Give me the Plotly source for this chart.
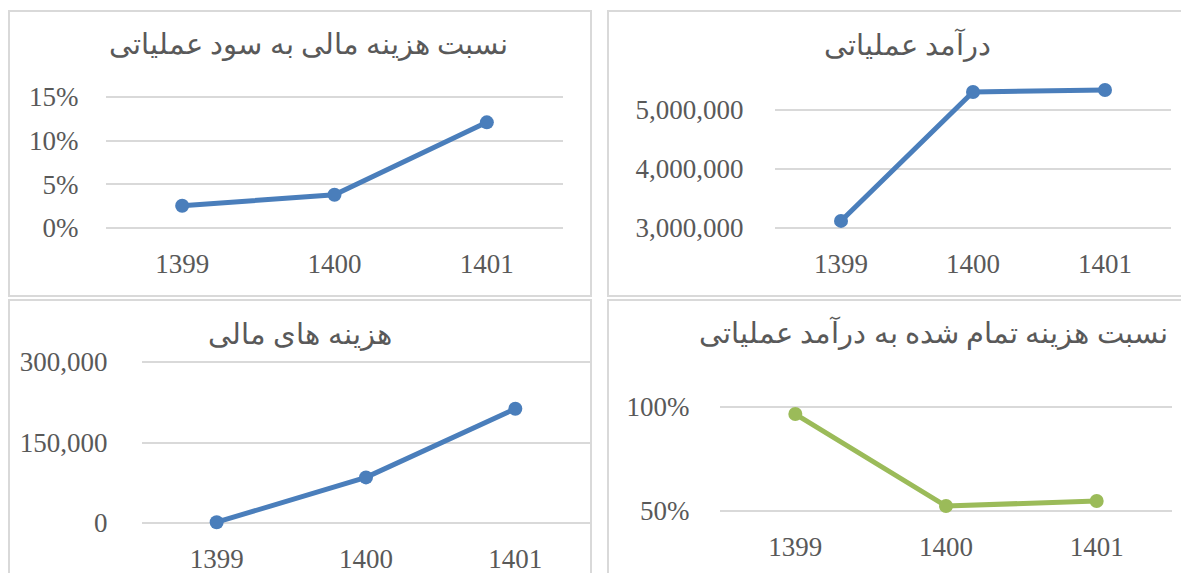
import plotly.graph_objects as go

# browser body has an 8px margin; size the figure to fit the viewport
VIEW_W, VIEW_H = 1189, 573
OFF = 8
W, H = VIEW_W - OFF, VIEW_H - OFF

years = ["1399", "1400", "1401"]
fin_cost_to_op_profit = [0.0255, 0.038, 0.121]
op_revenue = [3120000, 5305000, 5340000]
fin_costs = [1500, 85000, 213000]
cost_to_revenue = [0.966, 0.524, 0.548]

titles = [
    "نسبت هزینه مالی به سود عملیاتی",
    "درآمد عملیاتی",
    "هزینه های مالی",
    "نسبت هزینه تمام شده به درآمد عملیاتی",
]

BLUE = "#4a7ebb"
GREEN = "#9bbb59"
GRID = "#d9d9d9"
TXT = "#595959"
FONT = "Liberation Serif, Times New Roman, DejaVu Serif, serif"


def px_x(x):
    return (x - OFF) / W


def px_y(y):
    return 1 - (y - OFF) / H


fig = go.Figure()

# pixel geometry of each panel (screen coords); range values correspond to yt / yb gridlines
panels = [
    dict(x0=106, x1=563, yt=97, yb=228, rng=[0, 0.15],
         tv=[0, 0.05, 0.10, 0.15], tt=["0%", "5%", "10%", "15%"],
         data=fin_cost_to_op_profit, color=BLUE, title=(308, 45), ylen=21),
    dict(x0=775, x1=1171, yt=110, yb=228, rng=[3000000, 5000000], top_extra=30,
         tv=[3000000, 4000000, 5000000], tt=["3,000,000", "4,000,000", "5,000,000"],
         data=op_revenue, color=BLUE, title=(907, 45), ylen=25),
    dict(x0=142, x1=590, yt=362, yb=523, rng=[0, 300000],
         tv=[0, 150000, 300000], tt=["0", "150,000", "300,000"],
         data=fin_costs, color=BLUE, title=(300, 335), ylen=28),
    dict(x0=720, x1=1172, yt=407, yb=511, rng=[0.5, 1.0],
         tv=[0.5, 1.0], tt=["50%", "100%"],
         data=cost_to_revenue, color=GREEN, title=(933, 333), ylen=24),
]

PAD = 3
layout_axes = {}
for i, p in enumerate(panels, start=1):
    xa = "x" if i == 1 else f"x{i}"
    ya = "y" if i == 1 else f"y{i}"
    fig.add_trace(go.Scatter(
        x=years, y=p["data"], xaxis=xa, yaxis=ya, mode="lines+markers",
        line=dict(color=p["color"], width=5),
        marker=dict(color=p["color"], size=14),
        cliponaxis=False, showlegend=False, hoverinfo="skip",
    ))
    lo, hi = p["rng"]
    per_px = (hi - lo) / (p["yb"] - p["yt"])
    top_extra = p.get("top_extra", 0)
    yt = p["yt"] - PAD - top_extra
    yb = p["yb"] + PAD
    rng = [lo - PAD * per_px, hi + (PAD + top_extra) * per_px]
    xk = "xaxis" if i == 1 else f"xaxis{i}"
    yk = "yaxis" if i == 1 else f"yaxis{i}"
    layout_axes[xk] = dict(
        domain=[px_x(p["x0"]), px_x(p["x1"])], anchor=ya, automargin=False,
        type="category", range=[-0.5, 2.5], showgrid=False, zeroline=False,
        showline=False, ticks="outside", ticklen=9, tickcolor="rgba(0,0,0,0)",
        tickfont=dict(family=FONT, size=27, color=TXT), fixedrange=True,
    )
    layout_axes[yk] = dict(
        domain=[px_y(yb), px_y(yt)], anchor=xa, automargin=False,
        range=rng, tickvals=p["tv"], ticktext=p["tt"],
        showgrid=True, gridcolor=GRID, gridwidth=2, zeroline=False, showline=False,
        ticks="outside", ticklen=p["ylen"], tickcolor="rgba(0,0,0,0)",
        tickfont=dict(family=FONT, size=27, color=TXT), fixedrange=True,
    )
    tx, ty = p["title"]
    fig.add_annotation(
        text=titles[i - 1], x=px_x(tx), y=px_y(ty), xref="paper", yref="paper",
        showarrow=False, xanchor="center", yanchor="middle",
        font=dict(family=FONT, size=29, color=TXT),
    )

# panel borders
borders = [(9, 591, 11, 296), (608, 1210, 11, 296), (9, 591, 300, 600), (608, 1210, 300, 600)]
for x0, x1, y0, y1 in borders:
    fig.add_shape(type="rect", xref="paper", yref="paper",
                  x0=px_x(x0), x1=px_x(x1), y0=px_y(y0), y1=px_y(y1),
                  line=dict(color=GRID, width=2), fillcolor="rgba(0,0,0,0)", layer="below")

fig.update_layout(
    width=W, height=H, margin=dict(l=0, r=0, t=0, b=0, autoexpand=False),
    paper_bgcolor="white", plot_bgcolor="white",
    font=dict(family=FONT, color=TXT),
    **layout_axes,
)

fig.write_html("out.html", config={"displayModeBar": False})
